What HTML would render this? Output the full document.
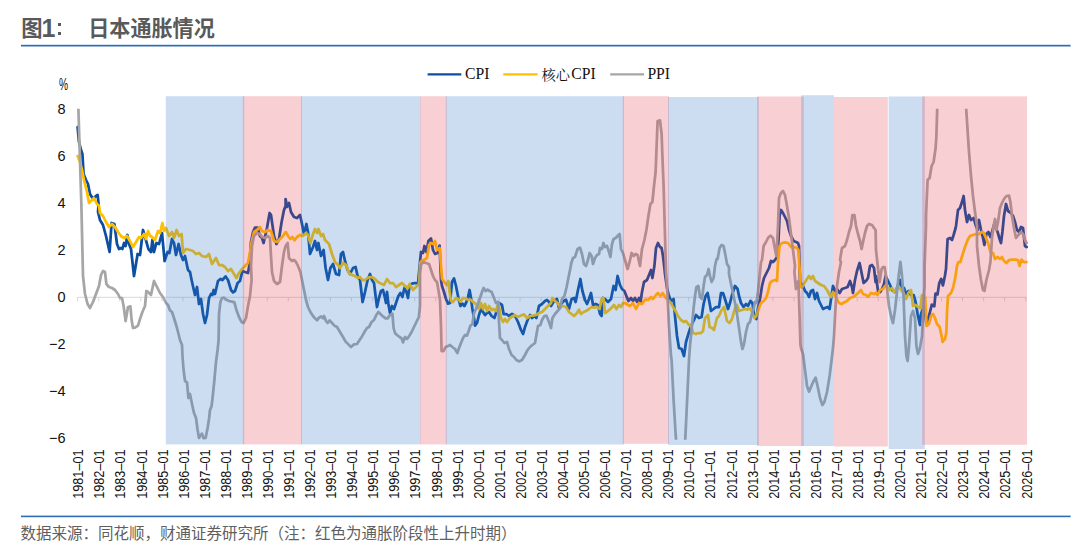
<!DOCTYPE html><html lang="zh"><head><meta charset="utf-8"><title>图1: 日本通胀情况</title><style>

html,body{margin:0;padding:0;background:#fff}
body{width:1080px;height:549px;position:relative;overflow:hidden;font-family:"Liberation Sans",sans-serif}
.t{position:absolute;white-space:nowrap;line-height:1}
.yl{position:absolute;right:1014.4px;font-size:14.5px;color:#111;line-height:16px;height:16px;text-align:right;white-space:nowrap;transform:scaleX(1.0);transform-origin:100% 50%}
.xl{position:absolute;left:0;top:0;height:16px;font-size:15px;line-height:16px;color:#111;white-space:nowrap;transform-origin:0 0}
.lg{position:absolute;top:66.4px;font-family:"Liberation Serif",serif;font-size:15.7px;line-height:16px;color:#111;white-space:nowrap}

</style></head><body>
<svg width="1080" height="549" viewBox="0 0 1080 549" style="position:absolute;left:0;top:0">
<rect x="21" y="44.8" width="1049.6" height="1.7" fill="#2e6cb5"/>
<rect x="21" y="515.6" width="1049.6" height="1.6" fill="#2e6cb5"/>
<text x="21.3" y="36.3" font-size="21.3" font-weight="bold" fill="#595959" font-family="&quot;Liberation Sans&quot;, &quot;Noto Sans CJK SC&quot;, sans-serif">图</text>
<text x="41.6" y="36.9" font-size="25" font-weight="bold" fill="#595959" font-family="&quot;Liberation Sans&quot;, &quot;Noto Sans CJK SC&quot;, sans-serif">1</text>
<text x="88.2" y="36.3" font-size="21.1" font-weight="bold" fill="#595959" font-family="&quot;Liberation Sans&quot;, &quot;Noto Sans CJK SC&quot;, sans-serif">日本通胀情况</text>
<text x="20.6" y="539.1" font-size="15.5" fill="#5f5f5f" font-family="&quot;Liberation Sans&quot;, &quot;Noto Sans CJK SC&quot;, sans-serif">数据来源：同花顺，财通证券研究所（注：红色为通胀阶段性上升时期）</text>
<path d="M77.6 297.3H1026.3 M77.6 297.3v4 M98.7 297.3v4 M119.7 297.3v4 M140.8 297.3v4 M161.9 297.3v4 M182.9 297.3v4 M204.0 297.3v4 M225.1 297.3v4 M246.2 297.3v4 M267.2 297.3v4 M288.3 297.3v4 M309.4 297.3v4 M330.4 297.3v4 M351.5 297.3v4 M372.6 297.3v4 M393.6 297.3v4 M414.7 297.3v4 M435.8 297.3v4 M456.9 297.3v4 M477.9 297.3v4 M499.0 297.3v4 M520.1 297.3v4 M541.1 297.3v4 M562.2 297.3v4 M583.3 297.3v4 M604.4 297.3v4 M625.4 297.3v4 M646.5 297.3v4 M667.6 297.3v4 M688.6 297.3v4 M709.7 297.3v4 M730.8 297.3v4 M751.8 297.3v4 M772.9 297.3v4 M794.0 297.3v4 M815.1 297.3v4 M836.1 297.3v4 M857.2 297.3v4 M878.3 297.3v4 M899.3 297.3v4 M920.4 297.3v4 M941.5 297.3v4 M962.5 297.3v4 M983.6 297.3v4 M1004.7 297.3v4 M1025.8 297.3v4" stroke="#d4d4d4" stroke-width="0.9" fill="none"/>
<clipPath id="pc"><rect x="70" y="108.8" width="970" height="331"/></clipPath>
<g clip-path="url(#pc)">
<polyline points="77.6,127.0 79.0,142.0 81.0,150.0 82.4,154.0 83.6,174.0 86.0,180.0 88.0,184.0 90.0,194.0 93.0,199.0 96.0,196.0 97.6,195.0 98.6,204.0 98.0,212.0 100.0,220.0 103.0,225.0 106.0,236.0 109.6,252.0 111.6,223.0 114.4,224.0 117.0,244.0 119.0,249.0 121.0,248.0 122.4,249.0 124.0,243.0 125.6,246.0 127.4,235.0 129.0,244.0 131.0,249.0 134.0,276.0 137.6,254.0 140.0,255.0 143.0,230.0 145.6,239.0 148.4,249.0 151.0,252.0 152.4,240.0 154.0,252.0 156.4,243.0 159.0,244.0 162.0,233.0 164.6,261.0 167.6,252.0 169.4,253.0 172.0,239.0 174.0,243.0 176.0,255.0 178.6,244.0 181.0,255.0 183.0,260.0 185.0,256.0 188.0,270.0 190.0,272.0 191.6,280.0 193.6,289.0 195.0,295.0 197.0,287.0 199.0,304.0 201.0,299.0 203.0,314.0 205.0,323.0 207.0,315.0 209.0,298.0 211.0,294.0 212.4,295.0 213.6,290.0 215.0,294.0 218.0,281.0 220.4,279.0 222.4,280.0 225.6,276.4 228.0,280.0 231.0,290.0 233.0,292.4 235.0,291.0 237.6,283.0 240.0,281.0 242.4,271.0 245.0,272.0 248.0,273.0 249.6,264.0 251.0,242.0 253.0,232.0 255.0,227.6 257.6,227.6 260.0,236.0 262.0,238.0 263.6,243.0 267.0,228.0 269.6,213.0 271.0,215.0 274.0,236.0 276.4,244.0 279.0,239.0 281.6,222.0 284.0,210.0 285.6,206.0 285.6,199.0 287.0,207.0 289.0,203.0 291.0,212.0 294.0,217.0 297.0,218.0 300.0,215.0 302.0,224.0 304.0,234.0 306.4,224.0 308.0,232.0 310.0,254.0 313.0,247.0 315.0,241.0 317.0,250.0 318.4,243.0 321.0,256.0 323.6,250.0 325.6,268.0 328.0,280.0 330.4,268.0 333.0,264.0 336.0,274.0 339.0,275.0 341.0,254.0 343.0,252.0 345.0,261.0 347.6,270.0 350.0,274.0 353.0,268.0 355.6,267.0 357.6,276.0 360.0,280.0 362.6,302.0 365.0,292.0 367.6,280.0 370.0,274.0 372.0,280.0 374.0,283.0 375.6,296.0 377.0,307.0 379.0,298.0 381.0,291.0 383.0,290.0 385.0,298.0 386.0,303.0 387.0,292.0 388.4,304.0 390.0,313.0 392.0,306.0 394.0,309.0 396.0,303.0 398.4,296.0 400.4,293.0 402.4,297.0 404.4,288.0 406.4,292.0 408.0,298.0 409.6,285.0 412.0,283.6 415.0,283.0 418.0,283.6 420.0,262.0 421.0,252.0 423.0,253.0 424.4,246.0 426.4,252.0 428.4,241.0 431.0,238.4 433.0,250.0 435.0,254.0 437.6,253.0 439.6,245.6 441.0,280.0 442.0,286.0 444.0,292.0 446.0,299.0 448.0,303.6 450.0,303.0 452.0,282.0 454.0,278.4 456.0,286.0 458.4,298.0 460.4,306.0 462.4,303.6 464.4,306.0 466.0,303.0 467.6,299.0 469.6,290.0 471.0,298.0 472.4,309.0 474.0,318.0 475.0,325.6 477.0,323.0 479.0,315.0 481.0,309.0 483.0,312.0 485.0,315.0 487.0,313.0 489.0,312.0 491.6,316.0 494.4,318.0 497.0,310.0 499.0,303.0 502.0,305.0 503.6,314.0 506.4,314.0 509.0,316.0 512.0,314.0 515.0,316.0 518.0,322.0 521.0,330.0 523.0,334.0 525.0,327.0 527.6,320.0 530.0,315.0 532.0,318.0 534.4,316.0 536.4,318.0 539.0,306.0 542.0,304.0 545.0,301.0 547.0,300.0 549.0,302.0 551.0,306.0 554.0,301.0 557.0,299.0 559.0,308.0 561.0,304.0 563.6,301.0 566.0,299.6 569.0,309.0 571.6,299.0 574.0,298.0 575.6,302.0 578.0,290.0 580.4,279.0 582.4,291.0 585.0,300.0 587.0,304.0 589.0,299.0 591.0,293.0 593.0,305.0 595.6,304.0 598.0,305.0 600.0,314.0 601.6,316.0 603.0,298.0 605.0,299.0 608.0,302.0 611.0,299.0 613.6,286.0 615.6,290.0 617.6,276.0 620.0,285.0 622.0,289.0 624.4,291.0 626.4,296.0 628.4,301.0 631.0,298.0 633.0,301.0 635.0,298.0 637.0,302.0 639.0,298.0 640.4,303.0 642.0,292.0 644.0,282.0 647.0,280.0 649.0,275.0 651.0,270.0 652.4,278.0 654.4,266.0 656.0,248.0 658.0,243.0 660.0,247.0 661.6,248.0 663.0,256.0 664.4,268.0 665.0,274.0 667.0,288.0 669.0,296.0 671.0,301.0 673.6,299.0 675.0,316.0 677.0,336.0 679.0,348.0 681.6,349.0 684.0,356.0 686.0,342.0 689.0,332.0 691.0,326.0 694.0,320.0 696.0,315.0 699.0,318.0 701.6,317.0 703.6,304.0 705.6,296.0 707.6,293.0 709.6,303.0 711.0,311.0 713.6,309.0 716.0,307.0 719.0,307.0 721.0,293.0 723.0,293.0 725.0,299.0 728.0,309.0 730.0,303.0 732.0,295.0 735.0,286.0 737.6,289.0 739.0,296.0 741.0,303.0 743.6,307.0 746.0,304.0 748.0,306.0 750.4,301.0 752.4,303.0 754.0,314.0 756.4,319.0 758.0,308.0 760.0,299.0 762.0,286.0 764.0,278.0 767.0,272.0 769.0,268.0 771.0,261.0 773.0,262.0 775.0,260.0 777.0,257.0 778.4,242.0 779.6,216.0 781.0,210.0 783.0,213.0 785.0,217.0 787.0,221.0 789.0,230.0 791.0,236.0 793.6,241.0 796.0,242.0 798.0,243.0 799.0,246.0 800.0,282.0 803.0,286.0 805.0,291.0 807.0,293.0 809.0,297.0 811.0,291.0 813.0,290.0 815.0,299.0 817.0,293.0 819.0,301.0 821.0,305.0 823.0,309.0 825.0,308.0 827.6,307.0 829.6,309.0 831.6,295.0 833.0,286.0 835.0,291.0 837.0,289.0 839.6,293.0 842.0,289.0 845.0,288.0 847.6,287.0 850.0,281.0 852.0,287.0 853.0,293.0 855.0,280.0 857.0,271.0 859.6,263.0 861.6,273.0 863.6,283.0 866.0,281.0 868.0,278.0 870.0,266.0 872.0,265.0 874.0,268.0 875.6,282.0 876.0,276.0 878.0,291.0 880.4,292.0 882.4,288.0 884.0,284.0 885.6,276.0 887.6,280.0 890.0,285.0 892.0,290.0 894.4,292.0 897.0,288.0 900.0,280.0 901.6,290.0 904.0,288.0 906.0,294.0 908.4,291.0 911.0,295.0 913.6,295.0 915.6,302.0 917.6,314.0 920.0,325.0 921.0,314.0 922.8,309.0 924.5,307.0 926.3,323.0 928.0,319.0 929.5,314.0 931.8,304.7 934.3,306.3 935.5,293.6 937.5,294.4 939.2,283.4 941.2,278.9 942.9,285.4 944.9,276.0 946.0,269.0 947.6,239.0 950.0,238.0 952.0,240.0 953.6,235.0 955.6,228.0 956.0,226.0 958.0,210.0 960.0,208.0 962.0,202.0 963.6,196.0 965.0,210.0 967.0,222.0 969.0,215.0 971.0,220.0 973.6,218.0 976.0,226.0 977.6,230.0 979.0,220.0 981.0,230.0 983.0,238.0 984.4,245.0 986.4,234.0 988.4,232.0 990.4,237.0 992.0,232.0 994.0,225.0 996.0,228.0 997.6,232.0 999.6,239.0 1001.0,243.0 1002.4,232.0 1004.0,216.0 1006.0,204.0 1008.0,211.0 1011.0,213.0 1013.0,216.0 1015.0,222.0 1017.0,230.0 1019.0,232.0 1021.0,227.0 1023.0,228.0 1025.0,246.0 1026.6,247.0" fill="none" stroke="#0b4ea2" stroke-width="2.75" stroke-linejoin="round" stroke-linecap="round"/>
<polyline points="77.6,156.0 80.0,162.0 82.0,170.0 84.0,180.0 87.0,192.0 89.0,203.0 92.0,200.0 94.0,198.0 97.0,204.0 99.0,205.8 100.0,213.0 103.0,216.0 106.0,222.0 109.0,227.0 112.0,224.0 115.0,227.0 118.0,232.0 121.0,236.0 124.0,238.0 127.0,236.0 130.0,241.0 133.0,247.0 136.0,242.0 139.0,237.0 141.0,238.0 144.0,234.0 146.0,239.0 148.0,231.0 150.0,236.0 152.0,237.0 155.0,240.0 158.0,231.0 160.0,233.0 162.4,223.0 164.0,231.0 166.0,228.0 169.0,236.0 172.0,232.0 174.0,238.0 176.6,230.0 179.0,236.0 181.6,234.0 183.0,253.0 186.0,249.0 190.0,250.0 193.0,251.0 196.0,254.0 199.0,253.0 202.0,256.0 206.0,257.0 209.0,254.0 212.0,264.0 216.0,258.0 219.0,265.0 222.0,265.0 225.0,267.0 228.0,271.0 231.0,269.0 234.0,274.0 236.4,278.0 239.0,273.0 242.0,269.0 245.0,266.0 248.0,263.0 250.0,252.0 252.0,240.0 254.0,232.0 257.0,230.0 260.0,227.0 262.0,231.0 265.0,232.0 268.0,230.0 271.0,231.0 274.0,241.0 277.0,242.0 280.0,239.0 283.0,236.0 285.6,232.0 286.0,232.0 288.0,236.0 290.4,239.0 292.4,237.0 294.4,240.4 297.0,237.0 300.0,235.0 303.0,236.0 306.0,233.0 308.0,235.0 310.4,243.0 313.0,234.0 315.0,229.0 317.0,233.0 318.4,229.0 321.0,236.0 323.0,234.0 325.0,240.0 329.0,244.0 332.0,254.0 335.0,262.0 338.0,265.0 340.0,268.0 343.0,263.0 346.0,265.0 349.0,273.0 352.0,275.0 355.0,276.0 358.0,278.0 360.0,277.0 362.4,280.0 365.0,280.0 367.6,278.0 370.0,277.0 372.0,277.0 375.0,279.0 378.0,282.0 381.0,283.6 384.0,285.0 387.0,279.0 390.0,283.0 393.0,283.0 396.0,287.0 399.0,285.0 402.0,283.0 405.0,286.0 408.0,288.0 409.6,284.0 411.6,287.0 413.0,290.0 416.0,287.0 419.0,284.0 420.2,263.0 421.4,261.0 424.0,260.0 427.0,258.0 429.0,245.0 431.0,243.0 433.0,244.0 435.0,241.0 437.0,250.0 439.6,248.0 441.0,266.0 442.0,279.0 445.0,283.0 447.0,285.0 448.4,281.0 449.6,292.0 451.0,301.0 453.0,302.0 456.0,298.0 458.4,299.0 460.4,301.6 463.0,298.0 466.0,298.4 468.0,300.0 470.4,299.6 473.0,302.0 476.0,304.0 479.0,309.0 481.0,303.0 483.0,309.0 485.0,304.0 487.0,311.0 489.0,306.0 491.6,310.0 493.0,309.0 496.0,311.0 498.4,303.0 501.0,318.0 503.0,322.0 505.0,319.0 507.0,322.0 510.0,318.0 513.0,316.0 515.0,315.0 517.6,317.0 521.0,315.6 524.0,314.4 527.0,318.0 530.0,316.0 533.0,315.6 536.0,315.0 539.0,313.0 542.0,312.0 545.0,309.0 548.0,306.0 551.0,303.0 552.4,298.0 555.0,301.0 557.6,303.0 560.0,307.0 563.0,306.0 566.0,307.0 569.0,312.0 571.6,314.0 574.0,316.0 577.0,313.0 579.0,309.6 581.0,314.0 583.6,312.0 586.0,311.0 589.0,309.0 591.6,307.0 594.0,307.6 597.0,307.0 599.6,309.0 601.6,299.0 603.4,298.0 605.0,313.0 608.0,311.0 611.0,308.4 614.0,305.0 616.4,309.0 619.0,305.0 621.0,307.0 623.0,303.0 625.0,303.0 628.0,305.0 630.0,306.0 633.0,303.0 636.0,309.0 639.0,303.0 642.0,304.0 645.0,299.6 648.0,300.0 651.0,297.0 653.0,299.0 656.0,295.0 658.0,293.0 660.4,296.0 662.6,293.0 665.0,297.0 668.0,300.0 671.0,303.0 673.0,307.0 675.6,311.0 678.0,316.0 681.0,320.0 684.0,322.0 686.0,321.0 689.0,325.0 691.0,326.0 693.0,333.0 696.0,334.0 698.0,333.0 701.0,333.0 703.0,331.0 705.0,318.0 708.0,315.0 709.6,327.0 712.0,328.0 714.0,330.0 717.0,318.0 719.0,316.0 721.0,311.0 724.0,307.0 727.0,321.0 729.6,323.0 732.0,319.0 735.0,308.0 737.0,305.0 739.0,311.0 742.0,310.0 745.0,309.0 747.6,309.6 750.4,308.4 752.0,312.0 754.4,318.0 756.4,316.0 759.0,308.0 761.0,303.0 763.6,301.0 766.0,298.0 768.0,292.0 770.0,283.0 772.0,281.0 775.0,280.0 777.0,281.0 778.0,262.0 779.6,246.0 782.0,243.0 785.0,242.4 788.0,243.0 791.0,247.0 794.0,247.0 797.0,248.0 798.4,250.0 800.0,276.0 800.6,287.0 802.4,287.0 804.4,283.0 807.0,279.0 809.0,276.0 811.0,279.0 813.0,276.0 815.0,281.0 818.0,283.0 821.0,285.0 824.0,286.0 827.0,290.0 829.6,295.0 831.0,297.0 833.0,292.0 835.0,296.0 837.0,299.0 839.0,303.0 841.6,304.0 844.0,302.4 847.0,301.0 850.0,298.0 853.0,297.0 856.0,295.0 859.0,292.0 861.0,290.0 863.0,294.0 866.0,295.0 868.0,297.0 871.0,293.0 874.0,294.0 875.6,293.0 877.6,295.0 880.0,290.0 883.0,289.0 885.0,286.0 887.0,287.0 889.6,290.0 892.0,288.0 894.0,292.0 896.4,289.0 898.4,286.0 901.0,290.0 903.6,293.0 906.0,299.0 908.4,293.0 911.0,290.0 913.0,306.0 915.6,305.0 918.0,307.0 920.4,308.0 922.0,295.0 924.0,295.0 925.2,297.3 926.6,326.0 929.0,324.0 931.0,316.0 933.0,314.0 935.0,318.0 937.0,324.0 939.6,327.0 941.6,336.0 942.6,342.0 945.0,339.0 946.4,332.0 947.0,312.0 948.0,296.0 951.0,293.0 953.0,288.0 955.0,279.0 957.0,266.0 958.4,262.0 960.4,262.0 962.4,255.0 965.0,247.0 967.6,240.0 970.0,236.0 973.0,235.0 976.0,234.0 979.0,234.0 982.0,232.0 984.0,233.0 986.4,239.0 988.4,244.0 990.4,252.0 993.0,253.0 995.0,259.0 997.6,257.0 1000.0,259.0 1002.0,257.0 1004.0,261.0 1006.4,263.0 1009.0,260.0 1012.0,259.6 1015.0,259.6 1018.0,260.0 1019.6,266.0 1021.6,259.6 1024.0,262.0 1026.6,262.0" fill="none" stroke="#ffc000" stroke-width="2.75" stroke-linejoin="round" stroke-linecap="round"/>
<polyline points="77.6,60.0 78.4,109.0 81.4,206.0 83.0,276.0 85.0,294.0 87.6,304.0 90.0,308.0 93.0,302.0 96.0,294.0 99.0,286.0 101.0,275.0 103.0,271.0 105.0,272.0 106.4,284.0 109.0,287.0 112.0,288.0 115.0,290.0 118.0,294.0 120.0,298.0 122.0,298.0 123.6,306.0 125.6,321.0 128.0,307.0 130.4,306.4 131.6,320.0 133.0,328.0 135.0,327.6 138.0,325.6 140.0,319.0 142.4,312.0 145.0,306.0 146.4,291.0 148.4,292.4 151.0,295.0 154.0,281.0 157.0,287.0 160.0,293.0 163.0,297.0 166.0,303.0 168.0,305.0 170.0,310.4 172.0,312.0 174.0,318.0 177.0,328.0 180.0,340.0 182.0,345.0 182.6,358.0 183.6,370.0 185.0,381.0 187.0,382.4 188.4,398.0 190.0,394.0 192.0,404.0 194.0,413.0 196.0,418.0 197.6,430.0 199.0,438.0 200.4,435.6 202.0,433.6 203.6,438.4 205.6,438.0 207.6,428.0 209.0,419.0 210.0,410.0 211.6,406.0 213.0,394.0 214.4,380.0 216.0,362.0 217.6,350.0 218.6,340.0 219.0,314.0 220.4,302.0 222.0,298.0 224.0,297.6 226.0,299.6 229.0,301.0 232.0,301.6 234.4,302.4 236.4,310.0 239.0,317.0 241.6,322.0 243.6,323.0 246.0,318.0 248.0,306.0 250.0,296.0 251.6,280.0 251.0,266.0 252.0,246.0 254.0,236.0 257.0,233.0 260.0,234.0 262.0,237.0 265.0,238.0 268.0,236.0 270.0,238.0 271.0,256.0 272.0,272.0 274.0,281.0 277.0,284.0 280.0,282.0 282.0,266.0 284.0,252.0 285.6,246.0 287.6,243.0 289.0,258.0 292.0,261.0 294.0,260.0 296.0,262.0 298.0,266.0 300.4,272.0 302.0,280.0 304.0,290.0 304.4,292.0 306.0,300.0 308.0,307.0 310.4,312.0 313.0,316.0 315.0,318.4 317.0,320.4 319.0,317.6 321.0,316.4 323.0,318.4 324.0,316.0 326.0,321.0 327.6,323.0 329.6,320.4 332.0,323.0 334.4,325.6 337.0,327.0 340.0,332.0 343.0,337.0 345.6,341.6 348.4,344.4 351.0,347.0 354.0,344.4 357.0,344.0 359.6,340.0 362.0,336.4 365.0,331.0 367.0,328.0 369.0,327.0 371.6,322.0 374.0,320.0 376.0,315.6 378.4,312.0 380.4,314.0 383.0,316.4 385.6,318.4 387.6,318.4 390.0,315.0 392.4,313.6 393.6,328.0 395.0,333.0 397.0,335.0 399.6,337.0 401.6,338.4 403.0,342.4 405.0,337.0 407.0,339.0 409.0,336.4 411.6,332.0 414.0,327.0 416.4,322.0 418.8,317.0 420.0,306.0 420.0,274.0 421.0,265.0 423.0,262.0 426.0,263.0 429.0,264.0 431.0,270.0 433.0,276.0 435.0,280.0 437.0,282.0 438.4,290.0 440.0,300.0 441.0,326.0 441.6,351.0 443.6,351.0 445.6,347.0 448.0,346.0 450.0,345.0 452.4,347.0 455.0,349.0 457.4,353.0 459.0,348.0 461.0,343.0 463.0,338.0 465.0,335.0 467.0,335.6 469.0,330.0 470.4,325.6 472.4,324.0 474.0,313.0 476.0,309.0 478.0,304.0 480.0,298.0 482.0,292.0 483.6,288.0 485.6,291.0 487.6,289.6 489.6,291.0 491.6,292.0 494.0,298.0 496.0,303.0 498.0,302.0 499.0,322.0 500.0,338.0 502.0,340.0 504.4,343.0 507.0,342.0 509.0,349.0 511.6,355.0 514.0,357.0 516.4,360.0 519.0,361.4 522.0,360.0 525.0,355.0 527.6,350.0 530.0,347.0 532.4,345.0 535.0,343.0 536.4,335.0 538.0,326.0 540.4,325.0 542.0,320.0 544.4,316.0 546.4,315.6 549.0,322.0 551.0,328.0 552.4,318.0 555.0,314.0 557.6,311.0 560.0,308.4 562.0,299.0 564.4,296.0 566.4,288.0 568.4,278.0 570.0,270.0 571.6,262.0 571.0,264.0 573.0,258.0 575.0,257.0 577.6,249.0 580.0,247.6 582.0,254.0 584.0,264.0 586.0,266.0 588.0,260.0 589.6,253.0 591.6,256.0 593.0,264.0 595.0,258.0 597.0,255.0 599.0,254.0 600.0,248.0 602.0,249.0 603.4,243.0 605.0,247.0 607.0,246.0 609.0,252.0 610.4,257.0 612.0,244.0 613.6,239.0 615.6,238.0 617.6,236.0 619.6,234.0 621.0,249.0 623.0,253.0 625.0,260.0 627.6,269.0 629.6,262.0 631.6,253.0 633.6,256.0 635.6,254.0 637.6,255.0 640.0,266.0 642.0,249.0 644.4,240.0 646.4,230.0 648.4,216.0 650.4,204.0 652.4,202.0 654.0,186.0 655.6,172.0 657.6,121.0 660.0,120.4 661.6,134.0 662.4,156.0 663.6,186.0 666.0,271.0 667.0,286.0 669.0,326.0 671.0,356.0 671.6,360.0 673.6,400.0 675.6,434.0 676.4,444.0 685.0,444.0 686.0,424.0 687.6,390.0 689.0,360.0 690.4,340.0 690.0,346.0 691.6,330.0 693.6,308.0 695.0,296.0 696.4,287.0 698.4,286.0 700.0,297.0 702.0,299.0 703.6,286.0 705.0,277.0 707.0,275.0 708.6,269.0 710.0,276.0 711.6,282.0 713.6,278.0 715.0,266.0 716.6,259.0 717.6,259.0 719.6,248.0 721.6,245.0 723.6,246.0 725.6,256.0 727.0,264.0 729.0,267.0 729.0,274.0 731.0,284.0 733.0,293.0 735.0,303.0 737.0,314.0 739.0,328.0 741.0,342.0 742.4,349.0 744.0,344.0 746.0,332.0 748.0,324.0 750.0,322.0 751.6,315.0 753.6,309.0 755.0,302.0 756.4,303.0 758.0,292.0 759.6,276.0 761.0,262.0 762.0,260.0 763.6,246.0 766.0,242.0 768.0,238.0 770.4,235.6 773.0,238.0 774.4,246.0 776.4,256.0 778.0,226.0 779.0,198.0 781.0,193.0 783.0,191.0 785.0,195.0 787.0,206.0 789.0,218.0 791.0,234.0 793.0,250.0 795.0,266.0 794.4,272.0 796.0,289.0 797.6,282.0 798.4,281.0 799.6,316.0 800.4,344.0 801.0,348.0 803.0,354.0 805.0,370.0 807.0,386.0 809.0,391.6 811.0,387.0 813.6,381.0 815.6,377.6 818.0,388.0 820.0,398.0 822.4,405.0 824.4,402.0 827.0,392.0 829.6,376.0 831.6,360.0 833.0,348.0 834.0,336.0 835.6,306.0 837.0,286.0 839.0,272.0 841.0,262.0 840.0,260.0 842.0,248.0 845.0,246.0 847.0,240.0 849.0,232.0 851.0,226.0 852.4,215.0 854.4,215.0 856.0,226.0 858.0,234.0 860.0,241.0 861.6,249.0 863.0,242.0 865.0,233.0 867.0,226.0 869.0,224.0 872.0,225.0 874.0,228.0 875.6,230.0 876.0,250.0 878.0,268.0 879.6,282.0 881.6,269.0 883.0,267.0 884.6,267.0 886.0,276.0 887.6,294.0 889.0,306.0 891.0,316.0 893.0,323.0 895.0,310.0 897.0,292.0 898.4,278.0 900.4,262.0 902.0,276.0 903.6,298.0 905.0,336.0 906.4,356.0 907.6,361.0 909.0,346.0 911.0,316.0 913.0,311.0 915.0,318.0 916.4,346.0 918.0,354.0 920.0,348.0 922.0,336.0 923.4,306.0 924.6,286.0 924.6,266.0 926.0,226.0 926.0,216.0 927.6,180.0 929.6,178.0 931.6,166.0 933.6,162.0 935.6,148.0 936.4,136.0 937.2,109.0 938.0,60.0 965.0,60.0 966.2,109.0 969.0,152.0 971.0,176.0 973.0,196.0 975.0,212.0 977.0,226.0 977.0,246.0 979.0,266.0 981.0,280.0 983.0,290.0 984.4,291.0 986.4,280.0 989.0,270.0 990.4,262.0 992.0,238.0 993.6,226.0 995.0,219.0 996.4,230.0 998.0,222.0 1000.0,208.0 1002.0,203.0 1004.0,199.0 1006.4,196.0 1009.0,195.6 1010.4,202.0 1012.0,216.0 1014.0,228.0 1016.0,238.0 1018.4,235.0 1021.0,232.0 1023.0,234.0 1025.0,240.0 1026.6,243.0" fill="none" stroke="#a6a6a6" stroke-width="2.75" stroke-linejoin="round" stroke-linecap="round"/>
</g>
<rect x="165.8" y="96.2" width="78.4" height="348.2" fill="rgba(51,119,203,0.25)"/>
<rect x="242.8" y="96.2" width="59.2" height="348.2" fill="rgba(227,55,67,0.235)"/>
<rect x="301.0" y="96.2" width="119.5" height="348.2" fill="rgba(51,119,203,0.25)"/>
<rect x="420.1" y="96.2" width="26.7" height="348.2" fill="rgba(227,55,67,0.235)"/>
<rect x="445.8" y="96.2" width="178.2" height="348.3" fill="rgba(51,119,203,0.25)"/>
<rect x="622.8" y="96.2" width="46.2" height="347.6" fill="rgba(227,55,67,0.235)"/>
<rect x="668.0" y="97.0" width="90.8" height="348.0" fill="rgba(51,119,203,0.25)"/>
<rect x="757.0" y="96.5" width="46.8" height="349.5" fill="rgba(227,55,67,0.235)"/>
<rect x="801.2" y="95.2" width="32.6" height="350.8" fill="rgba(51,119,203,0.25)"/>
<rect x="833.8" y="97.0" width="54.0" height="349.5" fill="rgba(227,55,67,0.235)"/>
<rect x="888.6" y="96.5" width="36.2" height="352.5" fill="rgba(51,119,203,0.25)"/>
<rect x="922.2" y="96.3" width="104.8" height="348.5" fill="rgba(227,55,67,0.235)"/>
<path d="M427.6 74.4H461.3" stroke="#0b4ea2" stroke-width="2.3"/>
<path d="M503.3 74.4H537.6" stroke="#ffc000" stroke-width="2.3"/>
<path d="M610.2 74.4H644.1" stroke="#a6a6a6" stroke-width="2.3"/>
<text x="541.5" y="79.5" font-size="14.2" fill="#111" font-family="&quot;Liberation Serif&quot;, &quot;Noto Serif CJK SC&quot;, serif">核心</text>
</svg>
<div style="position:absolute;left:57.8px;top:23.0px;width:3.4px;height:2.9px;background:#595959"></div>
<div style="position:absolute;left:57.8px;top:32.0px;width:3.4px;height:2.9px;background:#595959"></div>
<div class="t" style="left:58.6px;top:76.3px;font-size:16.5px;color:#111;transform:scaleX(.62);transform-origin:0 0">%</div>
<div class="yl" style="top:101.2px">8</div>
<div class="yl" style="top:148.2px">6</div>
<div class="yl" style="top:195.2px">4</div>
<div class="yl" style="top:242.2px">2</div>
<div class="yl" style="top:289.2px">0</div>
<div class="yl" style="top:336.2px">−2</div>
<div class="yl" style="top:383.2px">−4</div>
<div class="yl" style="top:430.2px">−6</div>
<div class="xl" style="transform:translate(78.15px,498.8px) rotate(-90deg) scale(.845,1) translate(0,-7.8px)">1981–01</div>
<div class="xl" style="transform:translate(99.22px,498.8px) rotate(-90deg) scale(.845,1) translate(0,-7.8px)">1982–01</div>
<div class="xl" style="transform:translate(120.29px,498.8px) rotate(-90deg) scale(.845,1) translate(0,-7.8px)">1983–01</div>
<div class="xl" style="transform:translate(141.36px,498.8px) rotate(-90deg) scale(.845,1) translate(0,-7.8px)">1984–01</div>
<div class="xl" style="transform:translate(162.43px,498.8px) rotate(-90deg) scale(.845,1) translate(0,-7.8px)">1985–01</div>
<div class="xl" style="transform:translate(183.50px,498.8px) rotate(-90deg) scale(.845,1) translate(0,-7.8px)">1986–01</div>
<div class="xl" style="transform:translate(204.57px,498.8px) rotate(-90deg) scale(.845,1) translate(0,-7.8px)">1987–01</div>
<div class="xl" style="transform:translate(225.64px,498.8px) rotate(-90deg) scale(.845,1) translate(0,-7.8px)">1988–01</div>
<div class="xl" style="transform:translate(246.71px,498.8px) rotate(-90deg) scale(.845,1) translate(0,-7.8px)">1989–01</div>
<div class="xl" style="transform:translate(267.78px,498.8px) rotate(-90deg) scale(.845,1) translate(0,-7.8px)">1990–01</div>
<div class="xl" style="transform:translate(288.85px,498.8px) rotate(-90deg) scale(.845,1) translate(0,-7.8px)">1991–01</div>
<div class="xl" style="transform:translate(309.92px,498.8px) rotate(-90deg) scale(.845,1) translate(0,-7.8px)">1992–01</div>
<div class="xl" style="transform:translate(330.99px,498.8px) rotate(-90deg) scale(.845,1) translate(0,-7.8px)">1993–01</div>
<div class="xl" style="transform:translate(352.06px,498.8px) rotate(-90deg) scale(.845,1) translate(0,-7.8px)">1994–01</div>
<div class="xl" style="transform:translate(373.13px,498.8px) rotate(-90deg) scale(.845,1) translate(0,-7.8px)">1995–01</div>
<div class="xl" style="transform:translate(394.20px,498.8px) rotate(-90deg) scale(.845,1) translate(0,-7.8px)">1996–01</div>
<div class="xl" style="transform:translate(415.27px,498.8px) rotate(-90deg) scale(.845,1) translate(0,-7.8px)">1997–01</div>
<div class="xl" style="transform:translate(436.34px,498.8px) rotate(-90deg) scale(.845,1) translate(0,-7.8px)">1998–01</div>
<div class="xl" style="transform:translate(457.41px,498.8px) rotate(-90deg) scale(.845,1) translate(0,-7.8px)">1999–01</div>
<div class="xl" style="transform:translate(478.48px,498.8px) rotate(-90deg) scale(.845,1) translate(0,-7.8px)">2000–01</div>
<div class="xl" style="transform:translate(499.55px,498.8px) rotate(-90deg) scale(.845,1) translate(0,-7.8px)">2001–01</div>
<div class="xl" style="transform:translate(520.62px,498.8px) rotate(-90deg) scale(.845,1) translate(0,-7.8px)">2002–01</div>
<div class="xl" style="transform:translate(541.69px,498.8px) rotate(-90deg) scale(.845,1) translate(0,-7.8px)">2003–01</div>
<div class="xl" style="transform:translate(562.76px,498.8px) rotate(-90deg) scale(.845,1) translate(0,-7.8px)">2004–01</div>
<div class="xl" style="transform:translate(583.83px,498.8px) rotate(-90deg) scale(.845,1) translate(0,-7.8px)">2005–01</div>
<div class="xl" style="transform:translate(604.90px,498.8px) rotate(-90deg) scale(.845,1) translate(0,-7.8px)">2006–01</div>
<div class="xl" style="transform:translate(625.97px,498.8px) rotate(-90deg) scale(.845,1) translate(0,-7.8px)">2007–01</div>
<div class="xl" style="transform:translate(647.04px,498.8px) rotate(-90deg) scale(.845,1) translate(0,-7.8px)">2008–01</div>
<div class="xl" style="transform:translate(668.11px,498.8px) rotate(-90deg) scale(.845,1) translate(0,-7.8px)">2009–01</div>
<div class="xl" style="transform:translate(689.18px,498.8px) rotate(-90deg) scale(.845,1) translate(0,-7.8px)">2010–01</div>
<div class="xl" style="transform:translate(710.25px,498.8px) rotate(-90deg) scale(.845,1) translate(0,-7.8px)">2011–01</div>
<div class="xl" style="transform:translate(731.32px,498.8px) rotate(-90deg) scale(.845,1) translate(0,-7.8px)">2012–01</div>
<div class="xl" style="transform:translate(752.39px,498.8px) rotate(-90deg) scale(.845,1) translate(0,-7.8px)">2013–01</div>
<div class="xl" style="transform:translate(773.46px,498.8px) rotate(-90deg) scale(.845,1) translate(0,-7.8px)">2014–01</div>
<div class="xl" style="transform:translate(794.53px,498.8px) rotate(-90deg) scale(.845,1) translate(0,-7.8px)">2015–01</div>
<div class="xl" style="transform:translate(815.60px,498.8px) rotate(-90deg) scale(.845,1) translate(0,-7.8px)">2016–01</div>
<div class="xl" style="transform:translate(836.67px,498.8px) rotate(-90deg) scale(.845,1) translate(0,-7.8px)">2017–01</div>
<div class="xl" style="transform:translate(857.74px,498.8px) rotate(-90deg) scale(.845,1) translate(0,-7.8px)">2018–01</div>
<div class="xl" style="transform:translate(878.81px,498.8px) rotate(-90deg) scale(.845,1) translate(0,-7.8px)">2019–01</div>
<div class="xl" style="transform:translate(899.88px,498.8px) rotate(-90deg) scale(.845,1) translate(0,-7.8px)">2020–01</div>
<div class="xl" style="transform:translate(920.95px,498.8px) rotate(-90deg) scale(.845,1) translate(0,-7.8px)">2021–01</div>
<div class="xl" style="transform:translate(942.02px,498.8px) rotate(-90deg) scale(.845,1) translate(0,-7.8px)">2022–01</div>
<div class="xl" style="transform:translate(963.09px,498.8px) rotate(-90deg) scale(.845,1) translate(0,-7.8px)">2023–01</div>
<div class="xl" style="transform:translate(984.16px,498.8px) rotate(-90deg) scale(.845,1) translate(0,-7.8px)">2024–01</div>
<div class="xl" style="transform:translate(1005.23px,498.8px) rotate(-90deg) scale(.845,1) translate(0,-7.8px)">2025–01</div>
<div class="xl" style="transform:translate(1026.30px,498.8px) rotate(-90deg) scale(.845,1) translate(0,-7.8px)">2026–01</div>
<div class="lg" style="left:465px">CPI</div>
<div class="lg" style="left:571.2px">CPI</div>
<div class="lg" style="left:647.4px">PPI</div>
</body></html>
